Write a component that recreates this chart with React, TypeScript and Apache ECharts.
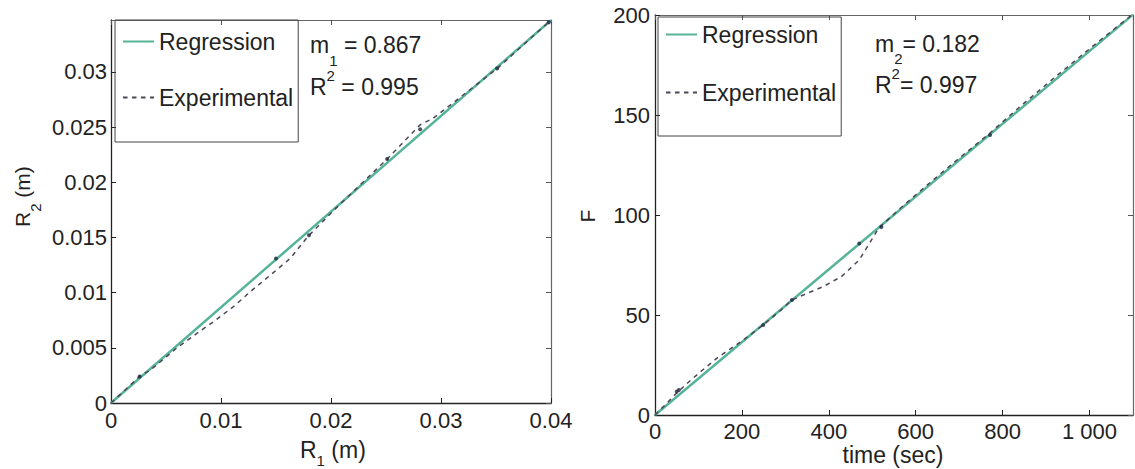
import React, { useEffect, useRef } from 'react';
import * as echarts from 'echarts';

const FONT = 'Liberation Sans';
const TXT = '#222';

// Left panel: R1 (m) vs R2 (m)
const leftRegX = [0, 0.04];
const leftRegY = [0, 0.03468];
const leftExpX = [0, 0.0026, 0.0036, 0.006, 0.0078, 0.0095, 0.0111, 0.0128, 0.0145, 0.0163, 0.018, 0.0205, 0.0229, 0.0251, 0.0281, 0.0293, 0.0351, 0.04];
const leftExpY = [0, 0.0024, 0.003, 0.005, 0.0063, 0.0075, 0.0087, 0.0102, 0.0116, 0.0131, 0.0152, 0.0177, 0.02, 0.0221, 0.0252, 0.0258, 0.0303, 0.0347];
const leftDotX = [0.0026, 0.015, 0.018, 0.0251, 0.0281, 0.0351, 0.0398];
const leftDotY = [0.0024, 0.0131, 0.0152, 0.0221, 0.0248, 0.0303, 0.0345];
const leftXTicks = { min: 0, max: 0.04, interval: 0.01 };
const leftYTicks = { min: 0, max: 0.0347, interval: 0.005 };

// Right panel: time (sec) vs F
const rightRegX = [0, 1100];
const rightRegY = [0, 200.2];
const rightExpX = [0, 30, 50, 75, 104, 146, 200, 249, 290, 315, 341, 387, 429, 470, 515, 560, 620, 680, 771, 840, 920, 1008, 1100];
const rightExpY = [0, 6.5, 11, 16, 21.5, 29, 37, 45, 52.5, 57.5, 60, 64.2, 69.2, 77.5, 93.5, 102.5, 113.8, 124.8, 141, 154.2, 168.8, 184.5, 200.5];
const rightDotX = [50, 55, 249, 315, 470, 521, 771];
const rightDotY = [11.7, 12.5, 45, 57.5, 85.8, 94, 140];
const rightXTicks = { min: 0, max: 1100, interval: 200 };
const rightYTicks = { min: 0, max: 200, interval: 50 };

const legendNames = ['Regression', 'Experimental'];

const zip = (xs: number[], ys: number[]) => xs.map((x, i) => [x, ys[i]]);

const REG_COLOR = '#55b398';
const EXP_COLOR = '#4d4657';
const DOT_COLOR = '#1f2440';

function isMultiple(v: number, step: number) {
  return Math.abs(v / step - Math.round(v / step)) < 1e-6;
}

function mainAxis(gridIndex: number, position: string, t: any, labelMargin: number, formatter?: any) {
  return {
    type: 'value',
    gridIndex,
    position,
    min: t.min,
    max: t.max,
    interval: t.interval,
    axisLine: { show: true, onZero: false, lineStyle: { color: '#222', width: 1.3 } },
    axisTick: { show: true, inside: true, length: 5, lineStyle: { color: '#222' } },
    axisLabel: {
      show: true,
      fontSize: 22,
      fontFamily: FONT,
      color: TXT,
      margin: labelMargin,
      showMaxLabel: isMultiple(t.max, t.interval),
      formatter,
    },
    splitLine: { show: false },
  };
}

function frameAxis(gridIndex: number, position: string, t: any) {
  return {
    type: 'value',
    gridIndex,
    position,
    min: t.min,
    max: t.max,
    interval: t.interval,
    axisLine: { show: true, onZero: false, lineStyle: { color: '#666', width: 1.2 } },
    axisTick: { show: true, inside: true, length: 5, lineStyle: { color: '#555' } },
    axisLabel: { show: false },
    splitLine: { show: false },
  };
}

const main = { fontSize: 23, fontFamily: FONT, fill: TXT, verticalAlign: 'top' };
const mainPad = (p: number) => ({ ...main, padding: [p, 0, 0, 0] });
const small = (q: number) => ({ fontSize: 15, fontFamily: FONT, fill: TXT, verticalAlign: 'top', padding: [q, 0, 0, 0] });

function richText(x: number, y: number, text: string, rich: any, extra: any = {}) {
  return {
    type: 'text',
    x,
    y,
    ...extra,
    style: { text, rich, fill: TXT, font: `23px ${FONT}`, align: 'left', verticalAlign: 'top' },
  };
}

export default function App() {
  const ref = useRef<HTMLDivElement>(null);

  useEffect(() => {
    document.body.style.margin = '0';
    if (!ref.current) return;
    const chart = echarts.init(ref.current, undefined, { renderer: 'svg' });

    const legendCommon = {
      orient: 'vertical',
      itemWidth: 31,
      itemHeight: 14,
      borderColor: '#444',
      borderWidth: 1,
      borderRadius: 0,
      selectedMode: false,
      itemStyle: { color: 'rgba(0,0,0,0)', borderWidth: 0, opacity: 0 },
      textStyle: { fontSize: 23, fontFamily: FONT, color: TXT },
      data: legendNames,
    };

    const option: any = {
      animation: false,
      backgroundColor: '#fff',
      textStyle: { fontFamily: FONT },
      grid: [
        { left: 111, top: 20, width: 440, height: 383, containLabel: false },
        { left: 655, top: 15, width: 478, height: 400, containLabel: false },
      ],
      xAxis: [
        mainAxis(0, 'bottom', leftXTicks, 6),
        frameAxis(0, 'top', leftXTicks),
        mainAxis(1, 'bottom', rightXTicks, 5, (v: number) => (v === 1000 ? '1 000' : String(v))),
        frameAxis(1, 'top', rightXTicks),
      ],
      yAxis: [
        mainAxis(0, 'left', leftYTicks, 4),
        frameAxis(0, 'right', leftYTicks),
        mainAxis(1, 'left', rightYTicks, 5),
        frameAxis(1, 'right', rightYTicks),
      ],
      legend: [
        { ...legendCommon, left: 115, top: 20, padding: [10, 5, 33, 7], itemGap: 33 },
        { ...legendCommon, left: 658, top: 17, padding: [6, 5, 32, 7], itemGap: 35 },
      ],
      series: [
        {
          type: 'line', name: 'Regression', xAxisIndex: 0, yAxisIndex: 0,
          data: zip(leftRegX, leftRegY), symbol: 'none', z: 2,
          lineStyle: { color: REG_COLOR, width: 2.5 }, itemStyle: { color: REG_COLOR },
        },
        {
          type: 'line', name: 'Experimental', xAxisIndex: 0, yAxisIndex: 0,
          data: zip(leftExpX, leftExpY), symbol: 'none', z: 3,
          lineStyle: { color: EXP_COLOR, width: 1.5, type: [4.5, 4.5] }, itemStyle: { color: EXP_COLOR },
        },
        {
          type: 'scatter', name: 'Data points (R)', xAxisIndex: 0, yAxisIndex: 0,
          data: zip(leftDotX, leftDotY), symbol: 'circle', symbolSize: 4, z: 4,
          itemStyle: { color: DOT_COLOR },
        },
        {
          type: 'line', name: 'Regression', xAxisIndex: 2, yAxisIndex: 2,
          data: zip(rightRegX, rightRegY), symbol: 'none', z: 2,
          lineStyle: { color: REG_COLOR, width: 2.5 }, itemStyle: { color: REG_COLOR },
        },
        {
          type: 'line', name: 'Experimental', xAxisIndex: 2, yAxisIndex: 2,
          data: zip(rightExpX, rightExpY), symbol: 'none', z: 3,
          lineStyle: { color: EXP_COLOR, width: 1.5, type: [4.5, 4.5] }, itemStyle: { color: EXP_COLOR },
        },
        {
          type: 'scatter', name: 'Data points (F)', xAxisIndex: 2, yAxisIndex: 2,
          data: zip(rightDotX, rightDotY), symbol: 'circle', symbolSize: 4, z: 4,
          itemStyle: { color: DOT_COLOR },
        },
      ],
      graphic: [
        richText(310, 33.5, '{a|m}{s|1}{a| = 0.867}', { a: main, s: small(19) }),
        richText(310, 68, '{a|R}{p|2}{a| = 0.995}', { a: mainPad(7.5), p: small(0) }),
        richText(875, 32.5, '{a|m}{s|2}{a|= 0.182}', { a: main, s: small(18) }),
        richText(875, 65.5, '{a|R}{p|2}{a|= 0.997}', { a: mainPad(8), p: small(0) }),
        richText(300, 438.5, '{a|R}{s|1}{a| (m)}', { a: main, s: small(14) }),
        {
          type: 'text', x: 893, y: 455,
          style: { text: 'time (sec)', fill: TXT, font: `23px ${FONT}`, align: 'center', verticalAlign: 'middle' },
        },
        richText(12, 227, '{a|R}{s|2}{a| (m)}',
          { a: { ...main, fontSize: 21 }, s: small(16) },
          { rotation: Math.PI / 2 }),
        {
          type: 'text', x: 587, y: 216, rotation: Math.PI / 2,
          style: { text: 'F', fill: TXT, font: `21px ${FONT}`, align: 'center', verticalAlign: 'middle' },
        },
      ],
    };

    chart.setOption(option);
    return () => chart.dispose();
  }, []);

  return <div ref={ref} style={{ width: 1135, height: 469 }} />;
}
